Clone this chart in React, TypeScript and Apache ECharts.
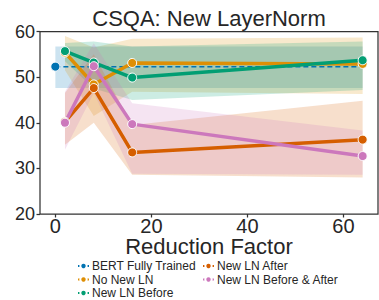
import React, { useEffect, useRef } from "react";
import * as echarts from "echarts";

const reductionFactors = [2, 8, 16, 64];
const bertX = [0, 64];
const bertMean = [52.3, 52.3];
const bertLow = [47.6, 47.6];
const bertHigh = [56.7, 56.7];

const noNewLN = [55.4, 48.4, 53.1, 52.9];
const noNewLNLow = [51.5, 41.5, 46.8, 46.3];
const noNewLNHigh = [59.0, 56.5, 58.4, 58.7];

const newLNBefore = [55.7, 53.2, 49.9, 53.7];
const newLNBeforeLow = [53.5, 47.5, 45.0, 47.2];
const newLNBeforeHigh = [57.5, 57.8, 56.7, 57.8];

const newLNAfter = [40.2, 47.6, 33.5, 36.3];
const newLNAfterLow = [35.2, 40.0, 28.6, 28.0];
const newLNAfterHigh = [46.5, 55.0, 39.5, 44.8];

const newLNBoth = [40.0, 52.4, 39.7, 32.7];
const newLNBothLow = [34.1, 46.5, 28.8, 28.6];
const newLNBothHigh = [46.8, 57.4, 44.3, 38.3];

const xTicks = [0, 20, 40, 60];

const COLORS = {
  bert: "#0173B2",
  no: "#DE8F05",
  before: "#029E73",
  after: "#D55E00",
  both: "#CC78BC",
};

const FONT = "Liberation Sans, Arial, sans-serif";
const TEXT = "#262626";

function band(name: string, xs: number[], lo: number[], hi: number[], color: string) {
  return {
    type: "custom",
    name,
    silent: true,
    z: 1,
    data: xs.map((x, i) => [x, lo[i], hi[i]]),
    encode: { x: 0, y: [1, 2] },
    renderItem: (params: any, api: any) => {
      if (params.dataIndex !== 0) return null;
      const top = xs.map((x, i) => api.coord([x, hi[i]]));
      const bottom = xs.map((x, i) => api.coord([x, lo[i]])).reverse();
      return {
        type: "polygon",
        shape: { points: top.concat(bottom) },
        style: { fill: color, opacity: 0.2 },
      };
    },
  };
}

function line(name: string, xs: number[], ys: number[], color: string) {
  return {
    type: "line",
    name,
    z: 3,
    data: xs.map((x, i) => [x, ys[i]]),
    symbol: "circle",
    symbolSize: 9,
    showSymbol: true,
    lineStyle: { color, width: 3.5 },
    itemStyle: { color, borderColor: "#ffffff", borderWidth: 1 },
  };
}

const legendCommon = {
  orient: "vertical",
  top: 260,
  height: 60,
  itemWidth: 11,
  itemHeight: 8,
  itemGap: 1.5,
  padding: 0,
  textStyle: { fontSize: 12, color: TEXT, fontFamily: FONT, padding: [0, 0, 0, -2] },
};

export default function App() {
  const ref = useRef<HTMLDivElement>(null);
  useEffect(() => {
    if (!ref.current) return;
    const chart = echarts.init(ref.current, undefined, { renderer: "svg" });
    chart.setOption({
      animation: false,
      backgroundColor: "#ffffff",
      textStyle: { fontFamily: FONT, color: TEXT },
      grid: {
        left: 40,
        top: 31.5,
        width: 338,
        height: 182.5,
        show: true,
        borderColor: "#333333",
        borderWidth: 1.25,
        backgroundColor: "transparent",
      },
      xAxis: {
        type: "value",
        min: -3.2,
        max: 67.2,
        name: "Reduction Factor",
        nameLocation: "middle",
        nameGap: 21.5,
        nameMoveOverlap: false,
        nameTextStyle: { fontSize: 22, color: TEXT, fontFamily: FONT, lineHeight: 22 },
        axisLine: { show: false, onZero: false },
        axisTick: {
          show: true,
          length: 3.5,
          customValues: xTicks,
          lineStyle: { color: "#333333", width: 1.25 },
        },
        axisLabel: {
          customValues: xTicks,
          fontSize: 20,
          lineHeight: 18,
          color: TEXT,
          fontFamily: FONT,
          margin: 2.5,
        },
        splitLine: { show: false },
      },
      yAxis: {
        type: "value",
        min: 20,
        max: 60,
        interval: 10,
        axisLine: { show: false, onZero: false },
        axisTick: {
          show: true,
          length: 3.5,
          lineStyle: { color: "#333333", width: 1.25 },
        },
        axisLabel: { fontSize: 18, color: TEXT, fontFamily: FONT, margin: 5 },
        splitLine: { show: false },
      },
      legend: [
        {
          ...legendCommon,
          left: 77,
          data: ["BERT Fully Trained", "No New LN", "New LN Before"],
        },
        {
          ...legendCommon,
          left: 202,
          data: ["New LN After", "New LN Before & After"],
        },
      ],
      graphic: [
        {
          type: "text",
          x: 209,
          y: 18,
          style: {
            text: "CSQA: New LayerNorm",
            fontSize: 22,
            fontFamily: FONT,
            fill: TEXT,
            textAlign: "center",
            textVerticalAlign: "middle",
          },
        },
      ],
      series: [
        band("BERT band", bertX, bertLow, bertHigh, COLORS.bert),
        band("No New LN band", reductionFactors, noNewLNLow, noNewLNHigh, COLORS.no),
        band("New LN Before band", reductionFactors, newLNBeforeLow, newLNBeforeHigh, COLORS.before),
        band("New LN After band", reductionFactors, newLNAfterLow, newLNAfterHigh, COLORS.after),
        band("New LN Both band", reductionFactors, newLNBothLow, newLNBothHigh, COLORS.both),
        {
          type: "line",
          name: "BERT Fully Trained",
          z: 2,
          data: [
            { value: [bertX[0], bertMean[0]] },
            { value: [bertX[1], bertMean[1]], symbol: "none" },
          ],
          symbol: "circle",
          symbolSize: 9,
          lineStyle: { color: COLORS.bert, width: 1.5, type: [5, 3] },
          itemStyle: { color: COLORS.bert, borderColor: "#ffffff", borderWidth: 1 },
        },
        line("No New LN", reductionFactors, noNewLN, COLORS.no),
        line("New LN Before", reductionFactors, newLNBefore, COLORS.before),
        line("New LN After", reductionFactors, newLNAfter, COLORS.after),
        line("New LN Before & After", reductionFactors, newLNBoth, COLORS.both),
      ],
    });
    return () => chart.dispose();
  }, []);
  return <div ref={ref} style={{ width: 379, height: 300, position: "absolute", left: 0, top: 0 }} />;
}
